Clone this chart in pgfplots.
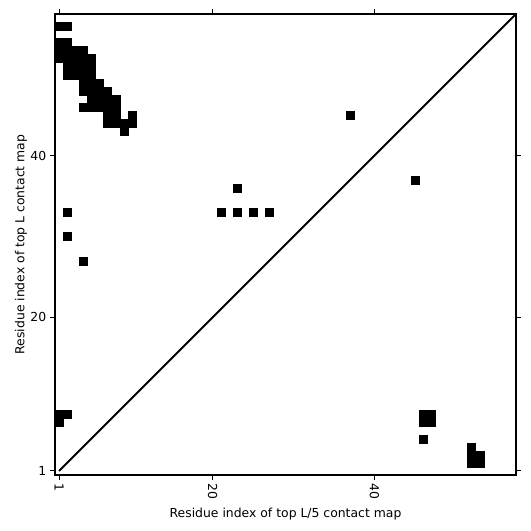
\documentclass[border=0pt]{standalone}
\usepackage{fontspec}
\setmainfont{DejaVu Sans}
\usepackage{pgfplots}
\pgfplotsset{compat=1.18}
\pgfplotstableread{
x y
1 56
2 56
1 54
2 54
1 53
2 53
3 53
4 53
1 52
2 52
3 52
4 52
5 52
2 51
3 51
4 51
5 51
2 50
3 50
4 50
5 50
4 49
5 49
6 49
4 48
5 48
6 48
7 48
5 47
6 47
7 47
8 47
4 46
5 46
6 46
7 46
8 46
7 45
8 45
10 45
7 44
8 44
9 44
10 44
9 43
37 45
23 36
45 37
2 33
21 33
23 33
25 33
27 33
2 30
4 27
1 8
2 8
1 7
46 8
47 8
46 7
47 7
46 5
52 4
52 3
53 3
52 2
53 2
}\contacts
\begin{document}
\fontsize{12.4bp}{14bp}\selectfont
\begin{tikzpicture}
\useasboundingbox (-55bp,-56bp) rectangle (476bp,475bp);
\begin{axis}[
  at={(0,0)}, anchor=south west,
  scale only axis, width=461bp, height=461bp,
  xmin=0.5, xmax=57.5, ymin=0.5, ymax=57.5,
  xtick={1,20,40}, ytick={1,20,40},
  tick pos=both, tick align=outside,
  major tick length=4.5bp,
  tick style={line width=1bp, black},
  axis line style={line width=2bp},
  xticklabel style={rotate=-90, anchor=west},
  /pgf/number format/assume math mode=true,
  ticklabel style={font=\fontsize{12.4bp}{14bp}\selectfont},
  label style={font=\fontsize{12.4bp}{14bp}\selectfont},
  xlabel={Residue index of top L/5 contact map},
  ylabel={Residue index of top L contact map},
  ylabel shift=-5bp,
  clip=true,
]
\addplot[black, line width=2bp] coordinates {(1,1) (57.5,57.5)};
\addplot[only marks, mark=square*, mark size=4.0bp, mark options={fill=black, draw=black, line width=0.2bp}] table[x=x,y=y] {\contacts};
\end{axis}
\end{tikzpicture}
\end{document}
